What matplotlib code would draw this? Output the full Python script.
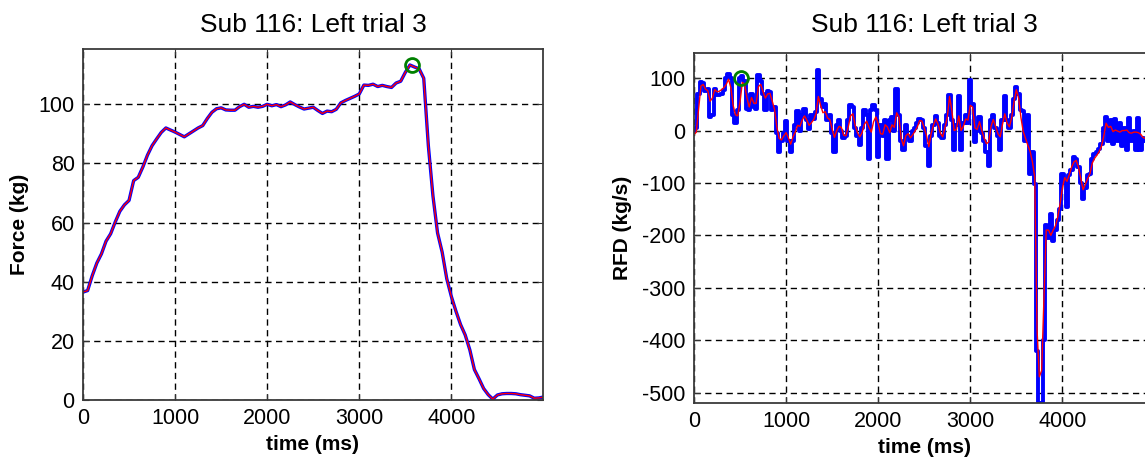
import numpy as np
import matplotlib.pyplot as plt

plt.rcParams['font.family'] = ['Liberation Sans', 'DejaVu Sans']
plt.rcParams['axes.unicode_minus'] = False

# Force trace (kg), sampled every 50 ms
force_t = np.arange(0, 5001, 50)
force = [36.5, 37.0, 42.0, 46.3, 49.4, 53.7, 56.2, 60.2, 63.8, 66.0,
         67.5, 74.2, 75.3, 78.8, 82.8, 86.0, 88.3, 90.5, 92.0, 91.3,
         90.6, 89.8, 89.0, 90.0, 91.0, 92.0, 92.8, 95.2, 97.3, 98.5,
         98.8, 98.1, 98.0, 98.0, 99.2, 100.0, 99.0, 99.3, 99.0, 99.3,
         100.0, 99.5, 99.9, 99.2, 99.8, 100.8, 99.9, 99.1, 98.4, 98.7,
         99.0, 97.9, 96.9, 97.7, 97.5, 98.3, 100.5, 101.3, 102.0, 102.7,
         103.5, 106.5, 106.4, 106.8, 106.0, 106.4, 106.0, 105.7, 107.2, 107.8,
         110.8, 113.3, 112.6, 112.0, 108.8, 86.0, 69.0, 56.5, 50.0, 41.0,
         35.0, 30.0, 25.5, 22.0, 17.0, 10.3, 7.2, 3.9, 1.8, 0.3,
         1.7, 2.1, 2.2, 2.2, 2.1, 1.8, 1.6, 1.4, 0.6, 0.7,
         1.0]

# RFD (kg/s), sampled every 25 ms: raw (blue) and smoothed (red)
rfd_t = np.arange(0, 5000, 25)
rfd_raw = [0, 5, 70, 92, 90, 75, 80, 25, 30, 80,
           68, 68, 70, 78, 100, 108, 100, 30, 15, 40,
           100, 105, 95, 42, 40, 70, 45, 42, 106, 95,
           70, 40, 76, 74, 40, 45, -5, -40, -20, -5,
           18, -20, -40, -20, 10, 38, 0, 30, 42, 20,
           2, 30, 22, 35, 116,
           60, 45, 50, 20, 30, -5, -41, 10, 20, 0,
           -15, -10, 20, 49, 45, 5, -10, -28, 5, 39,
           30, -54, 39, 49, 40, -51, 10, -10, 20, -54,
           20, 25, 0, 79, 30, -20, -38, 10, -10, -20,
           0, 5, 15, 22, 20, 5, -30, -67, -10, 10,
           28, 15, -10,
           -15, 10, 30, 68, 20, -38, 10, 65, -38, 15,
           30, 15, 97, 50, -22, 0, 25, -5, -20, -40,
           -67, 20, 30, 5, -10, -38, 20, 65, 20, 5,
           30, 60, 84, 70, 40, 38, -20, 30, -82, -40,
           -102,
           -420, -522, -520, -400, -181, -205, -159, -210, -190, -170,
           -150, -82, -100, -146, -85, -75, -50, -55, -70, -100,
           -130, -110, -85, -82, -55, -45, -40, -35, -25, 5,
           26, -20, 20, -25, 22, -20, 15, -30, 5, -38,
           23, -20, 0, -38, 23, -38, -15, -20, -10, -15,
           -14]
rfd_smooth = [-8, -3, 40, 85, 88, 79, 76, 56, 62, 78,
              74, 75, 78, 82, 88, 98, 82, 48, 30, 28,
              55, 92, 88, 62, 45, 63, 52, 52, 84, 88,
              74, 62, 70, 71, 56, 40, 6, -15, -18, -10,
              -4, -14, -26, -12, -3, 10, 8, 20, 28, 20,
              10, 15, 21, 32, 65,
              48, 34, 36, 24, 21, 3, -13, 0, 8, 6,
              -9, -10, 7, 28, 32, 10, -4, -12, -4, 12,
              18, 6, -3, 17, 26, 13, -6, -7, 11, 7,
              -4, 11, 6, 34, 26, -15, -29, -10, -6, -14,
              -8, -1, 7, 19, 18, 5, -10, -31, -6, 10,
              22, 12, -5,
              -12, 5, 25, 65, 38, 0, 2, 28, 0, 8,
              22, 20, 48, 45, 5, 2, 17, 0, -14, -25,
              -22, 8, 21, 8, -6, -12, 12, 32, 14, 7,
              25, 55, 78, 62, 25, -2, -15, -28, -40, -60,
              -89,
              -380, -470, -458, -320, -190, -190, -200, -190, -182, -165,
              -140, -110, -90, -97, -84, -70, -60, -57, -70, -92,
              -113, -102, -92, -82, -62, -53, -47, -40, -30, -10,
              14, 6, 8, -2, 1, -1, -3, 0, 0, 1,
              -4, -5, -3, -3, -4, -7, -13, -15, -14, -12,
              -14]

force_peak_t, force_peak = 3570, 113.3
rfd_peak_t, rfd_peak = 510, 100

title = 'Sub 116: Left trial 3'
xticks = [0, 1000, 2000, 3000, 4000]
force_yticks = [0, 20, 40, 60, 80, 100]
rfd_yticks = [-500, -400, -300, -200, -100, 0, 100]

W, H = 1145, 461
fig = plt.figure(figsize=(W / 100, H / 100), dpi=100)
ax1 = fig.add_axes([83 / W, (H - 400) / H, 460 / W, 351 / H])
ax2 = fig.add_axes([694 / W, (H - 403) / H, 460 / W, 350 / H])

grid_ls = (0, (4.5, 3.2))


def style(ax, ylabel, yticks, ylim, pad):
    ax.set_xlim(0, 4995)
    ax.set_ylim(*ylim)
    ax.set_xticks(xticks)
    ax.set_yticks(yticks)
    ax.set_yticklabels([str(v) for v in yticks])
    ax.set_axisbelow(True)
    ax.grid(True, color='k', linestyle=grid_ls, linewidth=1.0)
    ax.tick_params(direction='in', length=4, top=True, right=True,
                   labelsize=15.5, pad=6, color='#333333')
    for s in ax.spines.values():
        s.set_color('#3a3a3a')
        s.set_linewidth(1.3)
    ax.set_xlabel('time (ms)', fontsize=15, fontweight='bold', labelpad=4)
    ax.set_ylabel(ylabel, fontsize=15, fontweight='bold', labelpad=7)
    ax.set_title(title, fontsize=19, pad=pad)


ax1.plot(force_t, force, color='#0000ff', linewidth=2.4)
ax1.plot(force_t, force, color='#ff0000', linewidth=1.0)
ax1.plot(force_peak_t, force_peak, 'o', mfc='none', mec='#008000', ms=10, mew=2)
style(ax1, 'Force (kg)', force_yticks, (0, 118.7), 12)

ax2.plot(rfd_t, rfd_raw, color='#0000ff', linewidth=2.8, drawstyle='steps-mid')
ax2.plot(rfd_t, rfd_smooth, color='#ff0000', linewidth=1.0)
ax2.plot(rfd_peak_t, rfd_peak, 'o', mfc='none', mec='#008000', ms=10, mew=2)
style(ax2, 'RFD (kg/s)', rfd_yticks, (-520, 148), 15)

fig.savefig('out.png', dpi=100)
